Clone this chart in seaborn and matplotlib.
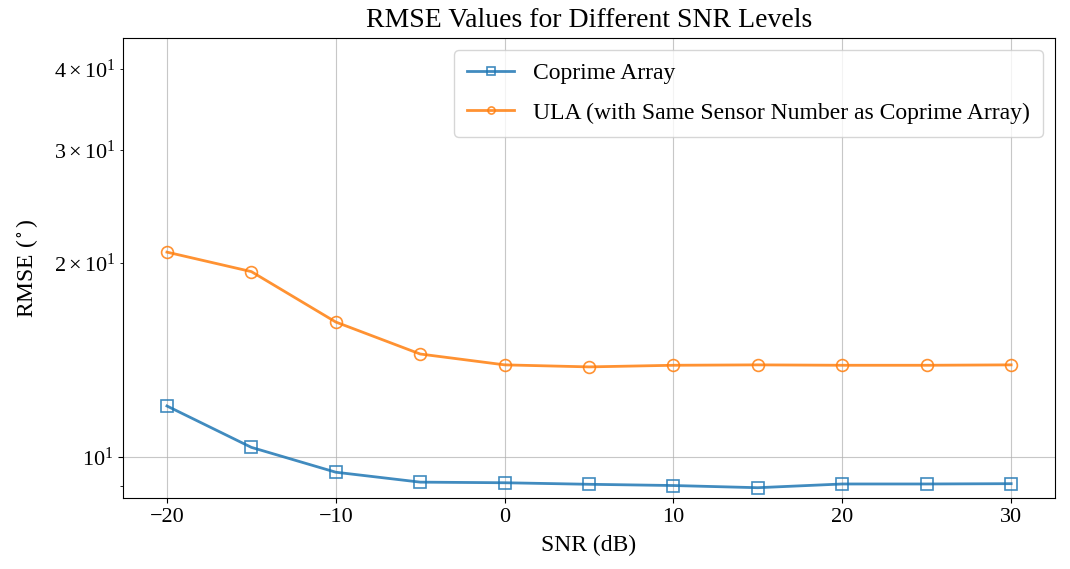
import pandas as pd
import matplotlib
matplotlib.use('Agg')
import matplotlib.pyplot as plt
import seaborn as sns

snr = [-20, -15, -10, -5, 0, 5, 10, 15, 20, 25, 30]
rmse_coprime = [12.0, 10.35, 9.47, 9.14, 9.12, 9.07, 9.03, 8.96, 9.08, 9.08, 9.09]
rmse_ula = [20.8, 19.4, 16.2, 14.45, 13.9, 13.8, 13.88, 13.9, 13.88, 13.88, 13.9]

plt.rcParams['font.family'] = ['Liberation Serif', 'DejaVu Serif']
plt.rcParams['mathtext.fontset'] = 'stix'

df = pd.DataFrame({'SNR': snr, 'Coprime': rmse_coprime, 'ULA': rmse_ula})

fig, ax = plt.subplots(figsize=(10.7, 5.69), dpi=100)
sns.lineplot(data=df, x='SNR', y='Coprime', ax=ax, marker='s', markersize=8.5,
             markerfacecolor='none', markeredgecolor='#1f77b4', markeredgewidth=1.2,
             color='#1f77b4', linewidth=2, alpha=0.85, label='Coprime Array')
sns.lineplot(data=df, x='SNR', y='ULA', ax=ax, marker='o', markersize=8.5,
             markerfacecolor='none', markeredgecolor='#ff7f0e', markeredgewidth=1.2,
             color='#ff7f0e', linewidth=2, alpha=0.85,
             label='ULA (with Same Sensor Number as Coprime Array)')

ax.set_yscale('log')
ax.set_ylim(8.64, 44.7)
ax.set_xlim(-22.6, 32.6)
ax.grid(True, which='major', color='#b0b0b0', linewidth=0.8, alpha=0.7)
ax.set_title('RMSE Values for Different SNR Levels', fontsize=20, pad=8)
ax.set_xlabel('SNR (dB)', fontsize=17, labelpad=6)
ax.set_ylabel(r'RMSE ($^\circ$)', fontsize=17, labelpad=10)
ax.tick_params(axis='both', which='both', labelsize=16)
ax.legend(loc='upper right', fontsize=17, labelspacing=0.75, borderpad=0.55,
          markerscale=0.6, handlelength=2.0)

plt.subplots_adjust(left=0.115, right=0.986, top=0.933, bottom=0.125)
plt.savefig('out.png', dpi=100)
